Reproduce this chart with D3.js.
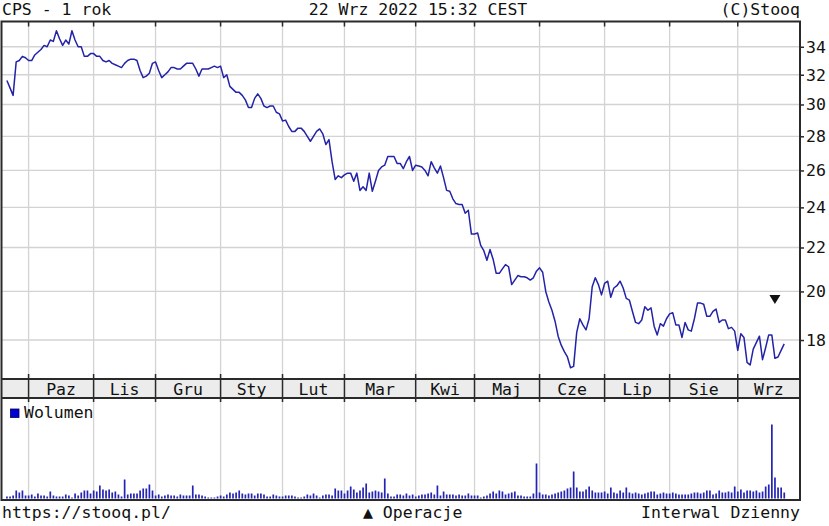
<!DOCTYPE html>
<html><head><meta charset="utf-8">
<script src="https://cdn.jsdelivr.net/npm/d3@7"></script>
<style>body{margin:0;background:#fff}svg{display:block}</style>
</head><body>
<script>
// ---- data ----
const closes = [
31.6,31.1,30.6,32.9,33.0,33.3,33.2,33.0,33.0,33.4,
33.6,33.8,34.1,34.0,34.5,34.4,35.2,34.6,34.1,34.5,
34.2,35.2,34.5,34.0,34.0,33.3,33.3,33.5,33.5,33.3,
33.3,33.0,32.9,33.0,32.8,32.7,32.6,32.5,32.8,33.0,
33.1,33.1,33.0,32.3,31.8,31.9,32.1,32.8,32.9,32.3,
31.8,32.0,32.2,32.5,32.5,32.4,32.4,32.6,32.8,32.8,
32.8,32.4,31.9,32.4,32.4,32.4,32.5,32.6,32.5,32.6,
31.8,32.0,31.2,31.0,30.8,30.8,30.6,30.3,29.8,29.8,
30.4,30.7,30.4,29.9,29.8,29.9,29.9,29.5,29.4,28.95,
29.0,28.6,28.3,28.3,28.5,28.5,28.3,28.0,27.7,28.0,
28.3,28.45,28.15,27.5,27.8,26.5,25.5,25.7,25.6,25.75,
25.85,25.85,25.4,25.85,24.9,25.1,24.9,25.85,24.85,25.4,
26.0,26.2,26.3,26.8,26.8,26.8,26.4,26.4,26.1,26.5,
26.8,26.0,26.3,26.25,26.2,26.0,25.7,26.5,26.15,25.85,
26.25,25.6,24.9,24.85,24.45,24.2,24.15,24.15,23.7,23.85,
22.65,22.65,22.7,22.1,21.85,21.4,21.9,21.45,20.8,20.8,
21.0,21.2,21.1,20.3,20.5,20.7,20.65,20.65,20.6,20.5,
20.6,20.9,21.05,20.85,20.0,19.55,19.2,18.75,18.15,17.8,
17.55,17.35,16.95,17.0,18.3,18.85,18.6,18.4,18.85,20.2,
20.6,20.3,19.85,20.35,20.45,19.75,20.15,20.25,20.45,20.15,
19.7,19.63,19.15,18.7,18.65,18.8,19.35,19.2,19.3,18.55,
18.2,18.65,18.55,18.85,19.05,19.1,18.6,18.6,18.1,18.7,
18.4,18.35,18.85,19.5,19.5,19.45,18.95,18.95,19.15,19.25,
18.7,18.8,18.8,18.45,18.5,18.35,17.6,18.25,18.1,17.15,
17.05,17.65,17.9,18.15,17.25,17.7,18.2,18.2,17.3,17.35,
17.6,17.85
];
// volume in thousands of shares
const volumes = [
200,200,300,800,600,800,300,300,400,200,
500,300,300,200,700,300,200,200,200,400,
300,100,500,300,600,800,800,500,800,700,
1300,900,800,900,600,700,400,200,1900,400,
500,500,500,800,1000,1000,1400,800,300,400,
200,300,400,300,300,200,400,300,300,300,
1300,400,400,300,200,100,100,100,200,300,
200,400,600,500,600,800,500,400,500,500,
300,500,500,400,200,200,400,300,200,200,
300,300,300,200,100,100,200,400,300,500,
300,100,300,400,400,300,1000,800,800,500,
800,1200,900,600,800,1100,1500,600,700,800,
700,600,2000,500,200,200,400,400,300,500,
300,400,200,300,400,400,500,600,400,1300,
300,700,400,400,400,300,400,300,300,500,
300,300,300,100,200,300,500,700,500,800,
700,400,500,600,700,300,300,200,200,200,
500,3500,600,400,400,300,400,500,600,700,
800,1000,1100,2700,1100,700,700,900,1200,800,
600,600,600,700,500,1100,600,500,800,600,
1100,600,500,600,500,400,500,600,700,700,
400,500,600,500,500,600,500,400,400,400,
400,500,600,600,500,600,800,800,400,500,
800,600,600,700,600,1200,700,900,600,800,
800,700,800,600,700,1200,1400,7400,2100,1100,
1100,600
];
const monthLabels = ["Paz","Lis","Gru","Sty","Lut","Mar","Kwi","Maj","Cze","Lip","Sie","Wrz"];
const monthStarts = [7,28,48,69,89,109,132,151,172,193,214,236];
const priceTicks = [18,20,22,24,26,28,30,32,34];
const opIndex = [248];
const opLevel = [19.65];
const titleText = "CPS - 1 rok";
const dateText = "22 Wrz 2022 15:32 CEST";
const copyText = "(C)Stooq";
const footLeft = "https://stooq.pl/";
const footMid = "\u25B2 Operacje";
const footRight = "Interwal Dzienny";
const volLegend = "Wolumen";

// ---- layout ----
const W = 829, H = 526;
const L = 1.5, R = 800, PT = 21.5, PB = 379, BB = 398, VB = 500;
const FONT = "'DejaVu Sans Mono', monospace";
const FS = 16.5;
const LINE = "#2323a8", BAR = "#2424b4", GRID = "#d3d3d3", BORDER = "#2a2a2a";

const svg = d3.select("body").append("svg").attr("width", W).attr("height", H)
  .style("font-family", FONT).style("font-size", FS + "px");
svg.append("rect").attr("width", W).attr("height", H).attr("fill", "#fff");

const x = d3.scaleLinear().domain([0, closes.length - 1]).range([6.9, 784.2]);
const y = d3.scaleLog().domain([16.53, 35.9]).range([379.3, 21.7]);
const v = d3.scaleLinear().domain([0, 10000]).range([498.5, 398.5]);

// month band
svg.append("rect").attr("x", L).attr("y", PB).attr("width", R - L).attr("height", BB - PB)
  .attr("fill", "#ececec");

// grids
const g = svg.append("g").attr("stroke", GRID).attr("stroke-width", 1.3);
priceTicks.forEach(t => g.append("line").attr("x1", L).attr("x2", R).attr("y1", y(t)).attr("y2", y(t)));
monthStarts.forEach(i => {
  g.append("line").attr("x1", x(i)).attr("x2", x(i)).attr("y1", PT).attr("y2", PB);
  g.append("line").attr("x1", x(i)).attr("x2", x(i)).attr("y1", BB).attr("y2", VB);
});

// price line
svg.append("path").datum(closes)
  .attr("fill", "none").attr("stroke", LINE).attr("stroke-width", 1.5).attr("stroke-linejoin", "round")
  .attr("d", d3.line().x((d, i) => x(i)).y(d => y(d)));

// volume bars
svg.append("g").selectAll("rect").data(volumes).join("rect")
  .attr("x", (d, i) => x(i) - 0.8).attr("width", 1.7)
  .attr("y", d => v(d)).attr("height", d => v(0) - v(d))
  .attr("fill", BAR);

// operation marker
opIndex.forEach((oi, k) => {
  const cx = x(oi), cy = y(opLevel[k]);
  svg.append("path").attr("d", `M${cx - 5.5},${cy - 4.5}L${cx + 5.5},${cy - 4.5}L${cx},${cy + 4.5}Z`).attr("fill", "#111");
});

// borders
const b = svg.append("g").attr("fill", "none").attr("stroke", BORDER).attr("stroke-width", 2);
b.append("rect").attr("x", L).attr("y", PT).attr("width", R - L).attr("height", VB - PT);
b.append("line").attr("x1", L).attr("x2", R).attr("y1", PB).attr("y2", PB);
b.append("line").attr("x1", L).attr("x2", R).attr("y1", BB).attr("y2", BB);

// month tick marks
const tk = svg.append("g").attr("stroke", BORDER).attr("stroke-width", 1.5);
monthStarts.forEach(i => {
  const xx = x(i);
  tk.append("line").attr("x1", xx).attr("x2", xx).attr("y1", PT).attr("y2", PT + 5);
  tk.append("line").attr("x1", xx).attr("x2", xx).attr("y1", PB - 5).attr("y2", BB + 4);
});

// right axis
const ax = svg.append("g").attr("transform", `translate(${R},0)`)
  .call(d3.axisRight(y).tickValues(priceTicks).tickSize(4).tickPadding(2).tickFormat(d3.format("d")));
ax.select(".domain").remove();
ax.selectAll("line").attr("stroke", BORDER).attr("stroke-width", 1.5);
ax.selectAll("text").attr("fill", "#111").style("font-family", FONT).style("font-size", FS + "px");

// month labels
monthLabels.forEach((m, k) => {
  const a = x(monthStarts[k]);
  const e = k + 1 < monthStarts.length ? x(monthStarts[k + 1]) : R;
  svg.append("text").attr("x", (a + e) / 2).attr("y", 395).attr("text-anchor", "middle").attr("fill", "#111").text(m);
});

// legend
svg.append("rect").attr("x", 10.5).attr("y", 409).attr("width", 8.5).attr("height", 8.5)
  .attr("fill", "#0000d0").attr("stroke", "#000060").attr("stroke-width", 0.8);
svg.append("text").attr("x", 24).attr("y", 418).attr("fill", "#111").text(volLegend);

// header and footer
svg.append("text").attr("x", 2).attr("y", 15).attr("fill", "#111").text(titleText);
svg.append("text").attr("x", 418).attr("y", 15).attr("text-anchor", "middle").attr("fill", "#111").text(dateText);
svg.append("text").attr("x", 800).attr("y", 15).attr("text-anchor", "end").attr("fill", "#111").text(copyText);
svg.append("text").attr("x", 2).attr("y", 518).attr("fill", "#111").text(footLeft);
svg.append("text").attr("x", 363).attr("y", 518).attr("fill", "#111").text(footMid);
svg.append("text").attr("x", 800).attr("y", 518).attr("text-anchor", "end").attr("fill", "#111").text(footRight);
</script>
</body></html>
